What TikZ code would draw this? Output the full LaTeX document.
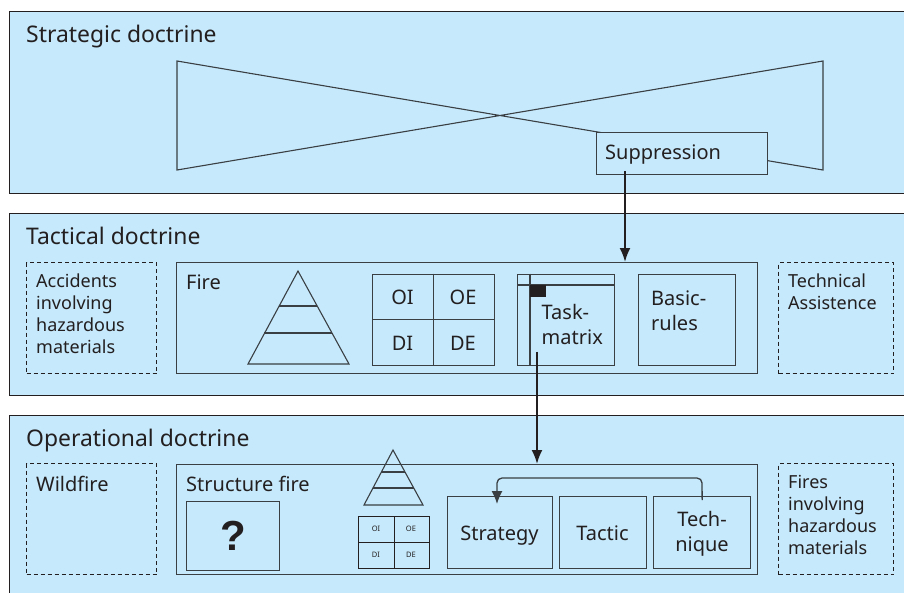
\documentclass[tikz,border=0pt]{standalone}
\usepackage{fontspec}
\setmainfont{Noto Sans}
\newfontfamily\questfont{Liberation Sans}
\definecolor{panelblue}{HTML}{C6E9FB}
\definecolor{ink}{HTML}{231F20}
\definecolor{edge}{HTML}{3A3F44}
\usetikzlibrary{arrows.meta,calc}
\tikzset{
  panel/.style={draw=ink,line width=1pt,fill=panelblue,rectangle,anchor=north west,inner sep=0pt,minimum width=#1},
  box/.style={draw=edge,line width=1.3pt,rectangle,anchor=north west,inner sep=0pt},
  dashbox/.style={draw=ink,line width=1.1pt,dash pattern=on 4pt off 3pt,rectangle,anchor=north west,inner sep=0pt},
  thin line/.style={draw=edge,line width=1.1pt},
  headtxt/.style={text=ink,font=\fontsize{22.9}{25}\selectfont,anchor=base west,inner sep=0pt},
  txt/.style={text=ink,font=\fontsize{20}{25}\selectfont,anchor=base west,inner sep=0pt,align=left},
  smalltxt/.style={text=ink,font=\fontsize{18}{22}\selectfont,align=left,inner sep=0pt,anchor=base west},
  tiny/.style={text=ink,font=\fontsize{7.5}{8}\selectfont,inner sep=0pt,anchor=base},
  med/.style={text=ink,font=\fontsize{20}{20}\selectfont,inner sep=0pt,anchor=base},
  flow/.style={draw=ink,line width=2pt,-{Latex[length=14pt,width=11pt]}},
}
\begin{document}
\begin{tikzpicture}[x=1pt,y=-1pt]
\useasboundingbox (0,0) rectangle (904,592);
\begin{scope}
\clip (0,0) rectangle (904,592);
\node[panel=900pt,minimum height=182pt] (p1) at (9,11) {};
\node[panel=900pt,minimum height=182pt] (p2) at (9,213) {};
\node[panel=900pt,minimum height=200pt] (p3) at (9,415) {};
\end{scope}
\node[headtxt] (t1) at (26,42) {Strategic doctrine};
\node[headtxt] (t2) at (26,244.5) {Tactical doctrine};
\node[headtxt] (t3) at (26,446.5) {Operational doctrine};
% bowtie
\draw[thin line] (177,61) -- (823,170) -- (823,61) -- (177,170) -- cycle;
\node[box,fill=panelblue,minimum width=171pt,minimum height=42pt] (supp) at (596,132) {};
\node[txt] (supptxt) at (605,159) {Suppression};
% tactical
\node[dashbox,minimum width=130pt,minimum height=111pt] (acc) at (26,262) {};
\node[smalltxt] (acctxt) at (36,353) {Accidents\\involving\\hazardous\\materials};
\node[box,minimum width=581pt,minimum height=111pt] (fire) at (176,262) {};
\node[txt] (firetxt) at (186,289) {Fire};
\node[dashbox,minimum width=115pt,minimum height=111pt] (tech) at (778,262) {};
\node[smalltxt] (techtxt) at (788,309) {Technical\\Assistence};
% big pyramid
\draw[thin line] (298,271) -- (349,364) -- (248,364) -- cycle;
\draw[thin line] (278.8,306) -- (317.2,306);
\draw[thin line] (264,333) -- (332,333);
% big matrix
\node[box,minimum width=122pt,minimum height=91pt] (mat) at (372,273.5) {};
\draw[thin line] (mat.north) -- (mat.south);
\draw[thin line] (mat.west) -- (mat.east);
\node[med] (oi) at (402.5,304) {OI};
\node[med] (oe) at (463,304) {OE};
\node[med] (di) at (402.5,350) {DI};
\node[med] (de) at (463,350) {DE};
% task matrix
\node[box,minimum width=97pt,minimum height=91pt] (task) at (517,273.5) {};
\draw[thin line] (530,273.5) -- (530,364.5);
\draw[thin line] (517,285) -- (614,285);
\node[fill=ink,draw=none,anchor=north west,inner sep=0pt,minimum width=16pt,minimum height=12pt] (mark) at (530,285) {};
\node[txt] (tasktxt) at (541.5,344) {Task-\\matrix};
\node[box,minimum width=97pt,minimum height=91pt] (basic) at (638,273.5) {};
\node[txt] (basictxt) at (651,330) {Basic-\\rules};
% operational
\node[dashbox,minimum width=130pt,minimum height=111pt] (wild) at (26,463) {};
\node[txt] (wildtxt) at (36,491) {Wildfire};
\node[box,minimum width=581pt,minimum height=110pt] (sf) at (176,464) {};
\node[txt] (sftxt) at (186,491) {Structure fire};
\node[dashbox,minimum width=115pt,minimum height=111pt] (hazard) at (778,463) {};
\node[smalltxt] (hazardtxt) at (788,554) {Fires\\involving\\hazardous\\materials};
\node[box,minimum width=93pt,minimum height=69pt,text=ink,font=\questfont\fontsize{42}{42}\selectfont\bfseries] (q) at (186,501) {?};
% small pyramid
\draw[thin line] (393,450) -- (423,505) -- (364,505) -- cycle;
\draw[thin line] (381,472) -- (405,472);
\draw[thin line] (372.5,488) -- (413.5,488);
% small matrix
\node[box,draw=ink,line width=1pt,minimum width=71pt,minimum height=52pt] (smat) at (358,516) {};
\draw[draw=ink,line width=1pt] (smat.north) -- (smat.south);
\draw[draw=ink,line width=1pt] (smat.west) -- (smat.east);
\node[tiny] (soi) at (376,531) {OI};
\node[tiny] (soe) at (411,531) {OE};
\node[tiny] (sdi) at (376,557) {DI};
\node[tiny] (sde) at (411,557) {DE};
% strategy etc
\node[box,minimum width=105pt,minimum height=72pt] (strat) at (447,496) {};
\node[box,minimum width=87pt,minimum height=72pt] (tactic) at (559,496) {};
\node[box,minimum width=97pt,minimum height=72pt] (techn) at (653,496) {};
\node[txt,anchor=base] (strattxt) at (499.5,540) {Strategy};
\node[txt,anchor=base] (tactictxt) at (602.5,540) {Tactic};
\node[txt,align=center,anchor=base] (techntxt) at (702,551) {Tech-\\nique};
% connectors
\coordinate (a1) at ($(supp.south west)+(29,-4)$);
\coordinate (a2) at ($(fire.north west)+(449,0)$);
\draw[flow] (a1) -- (a2);
\coordinate (b1) at ($(task.south west)+(20,-14)$);
\coordinate (b2) at ($(sf.north west)+(361,0)$);
\draw[flow] (b1) -- (b2);
\coordinate (c1) at ($(techn.north)+(0,4)$);
\coordinate (c2) at ($(strat.north west)+(50,8)$);
\draw[draw=edge,line width=1.3pt,-{Latex[length=13pt,width=11pt]},rounded corners=5pt] (c1) -- (702,478) -- (497,478) -- (c2);
\end{tikzpicture}
\end{document}
